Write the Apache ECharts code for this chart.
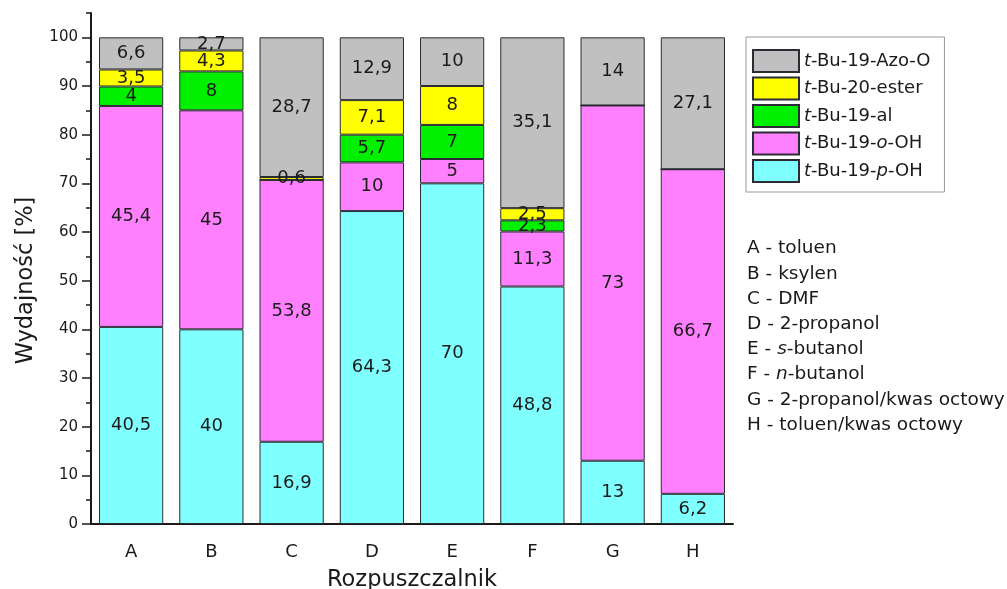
<!DOCTYPE html>
<html>
<head>
<meta charset="utf-8">
<script src="https://cdn.jsdelivr.net/npm/echarts@6/dist/echarts.min.js"></script>
<style>
  html, body { margin: 0; padding: 0; background: #fff; }
  #chart { width: 1007px; height: 589px; }
</style>
</head>
<body>
<div id="chart"></div>
<script>
// kategorie (rozpuszczalniki) i ich opisy
const categories = ['A', 'B', 'C', 'D', 'E', 'F', 'G', 'H'];
const solventNames = ['toluen', 'ksylen', 'DMF', '2-propanol', 's-butanol', 'n-butanol',
  '2-propanol/kwas octowy', 'toluen/kwas octowy'];

// wydajności [%] dla każdego produktu
const pOH = [40.5, 40, 16.9, 64.3, 70, 48.8, 13, 6.2];
const oOH = [45.4, 45, 53.8, 10, 5, 11.3, 73, 66.7];
const al = [4, 8, 0, 5.7, 7, 2.3, 0, 0];
const ester = [3.5, 4.3, 0.6, 7.1, 8, 2.5, 0, 0];
const azo = [6.6, 2.7, 28.7, 12.9, 10, 35.1, 14, 27.1];

const yTicks = [0, 10, 20, 30, 40, 50, 60, 70, 80, 90, 100];
const yMinorTicks = [5, 15, 25, 35, 45, 55, 65, 75, 85, 95, 105];

const FONT = 'DejaVu Sans';
const chart = echarts.init(document.getElementById('chart'));

function fmt(v) {
  return v === 0 ? '' : String(v).replace('.', ',');
}

function makeSeries(name, data, color) {
  return {
    name: name,
    type: 'bar',
    stack: 'total',
    barWidth: '80%',
    data: data,
    itemStyle: { color: color, borderColor: '#2b2b33', borderWidth: 1 },
    label: {
      show: true,
      position: 'inside',
      color: '#1a1a1a',
      fontFamily: FONT,
      fontSize: 18,
      formatter: p => fmt(p.value)
    },
    emphasis: { disabled: true }
  };
}

// legenda z kursywą (t, o, p)
function legendFmt(name) {
  return name.replace(/^t-/, '{i|t}-').replace('-o-', '-{i|o}-').replace('-p-', '-{i|p}-');
}

const solventText = categories.map((c, i) =>
  c + ' - ' + solventNames[i].replace(/^([sn])-/, '{i|$1}-')).join('\n');

const option = {
  animation: false,
  grid: { left: 91, right: 274, top: 13, bottom: 65, containLabel: false, outerBoundsMode: 'none' },
  legend: {
    orient: 'vertical',
    left: 746,
    top: 37,
    padding: [12, 14, 9, 6],
    itemWidth: 46,
    itemHeight: 22,
    itemGap: 3.5,
    icon: 'rect',
    borderColor: '#999',
    borderWidth: 1,
    data: ['t-Bu-19-Azo-O', 't-Bu-20-ester', 't-Bu-19-al', 't-Bu-19-o-OH', 't-Bu-19-p-OH'],
    formatter: legendFmt,
    textStyle: {
      fontFamily: FONT,
      fontSize: 18,
      lineHeight: 22,
      color: '#1a1a1a',
      rich: {
        i: { fontStyle: 'italic', fontFamily: FONT, fontSize: 18, lineHeight: 22, color: '#1a1a1a' }
      }
    }
  },
  xAxis: {
    type: 'category',
    data: categories,
    name: 'Rozpuszczalnik',
    nameLocation: 'middle',
    nameGap: 45,
    nameTextStyle: { fontFamily: FONT, fontSize: 22.5, color: '#1a1a1a' },
    axisLine: { lineStyle: { color: '#1a1a1a', width: 2 } },
    axisTick: { alignWithLabel: true, length: 7, lineStyle: { color: '#1a1a1a', width: 2 } },
    axisLabel: { fontFamily: FONT, fontSize: 18, color: '#1a1a1a', margin: 19 }
  },
  yAxis: [{
    type: 'value',
    min: 0,
    max: 105,
    interval: 10,
    name: 'Wydajność [%]',
    nameLocation: 'middle',
    nameGap: 53,
    nameTextStyle: { fontFamily: FONT, fontSize: 22.5, color: '#1a1a1a', padding: [0, 24, 0, 0] },
    splitLine: { show: false },
    axisLine: { show: true, lineStyle: { color: '#1a1a1a', width: 2 } },
    axisTick: { show: true, length: 9, customValues: yTicks, lineStyle: { color: '#1a1a1a', width: 1.5 } },
    axisLabel: { customValues: yTicks, fontFamily: FONT, fontSize: 15, color: '#1a1a1a', margin: 13 }
  }, {
    type: 'value',
    position: 'left',
    min: 0,
    max: 105,
    interval: 10,
    splitLine: { show: false },
    axisLine: { show: false },
    axisTick: { show: true, length: 5, customValues: yMinorTicks, lineStyle: { color: '#1a1a1a', width: 1.5 } },
    axisLabel: { show: false }
  }],
  graphic: [{
    type: 'text',
    left: 747,
    top: 236,
    style: {
      text: solventText,
      fontFamily: FONT,
      fontSize: 18.5,
      lineHeight: 25.2,
      fill: '#1a1a1a',
      rich: {
        i: { fontStyle: 'italic', fontFamily: FONT, fontSize: 18.5, lineHeight: 25.2, fill: '#1a1a1a' }
      }
    }
  }],
  series: [
    makeSeries('t-Bu-19-p-OH', pOH, '#80FFFF'),
    makeSeries('t-Bu-19-o-OH', oOH, '#FF80FF'),
    makeSeries('t-Bu-19-al', al, '#00F000'),
    makeSeries('t-Bu-20-ester', ester, '#FFFF00'),
    makeSeries('t-Bu-19-Azo-O', azo, '#C0C0C0')
  ]
};

chart.setOption(option);
</script>
</body>
</html>
